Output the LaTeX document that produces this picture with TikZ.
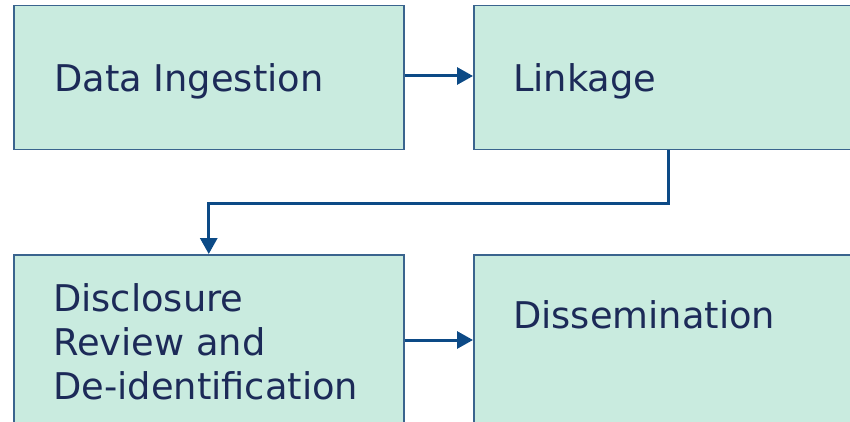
\documentclass[tikz,border=0pt]{standalone}
\usepackage{fontspec}
\setmainfont{DejaVu Sans}
\usetikzlibrary{arrows.meta}
\definecolor{boxfill}{RGB}{201,235,223}
\definecolor{boxline}{RGB}{58,100,142}
\definecolor{flowline}{RGB}{12,74,134}
\definecolor{labeltext}{RGB}{28,42,88}
\tikzset{
  stage/.style={draw=boxline, line width=1.5pt, fill=boxfill, rectangle,
    inner sep=0pt, anchor=north west},
  lbl/.style={text=labeltext, inner sep=0pt, align=left,
    font=\fontsize{36.8}{44}\selectfont},
  flow/.style={draw=flowline, line width=3pt,
    -{Triangle[length=16pt,width=17pt]}}
}
\begin{document}
\begin{tikzpicture}[x=1pt,y=-1pt]
      \clip (0,0) rectangle (850,422);
      \fill[white] (0,0) rectangle (850,422);
      \node[stage, minimum width=390pt, minimum height=144pt] (ingest) at (13,5) {};
      \node[stage, minimum width=390pt, minimum height=144pt] (link) at (473,5) {};
      \node[stage, minimum width=390pt, minimum height=200pt] (review) at (13,254) {};
      \node[stage, minimum width=390pt, minimum height=200pt] (dissem) at (473,254) {};
      \node[lbl, anchor=base west] (ingestlbl) at (54,92) {Data Ingestion};
      \node[lbl, anchor=base west] (linklbl) at (513,92) {Linkage};
      \node[lbl, anchor=north west] (reviewlbl) at (53,283) {Disclosure\\Review and\\De-identification};
      \node[lbl, anchor=base west] (dissemlbl) at (513,328) {Dissemination};
      \begin{scope}[flow]
        \draw (ingest.east |- 0,76) to (link.west |- 0,76);
        \draw (link.south) -- ++(0,52.5) -| (review.north);
        \draw (review.east |- 0,340) to (dissem.west |- 0,340);
      \end{scope}
    \end{tikzpicture}
\end{document}
